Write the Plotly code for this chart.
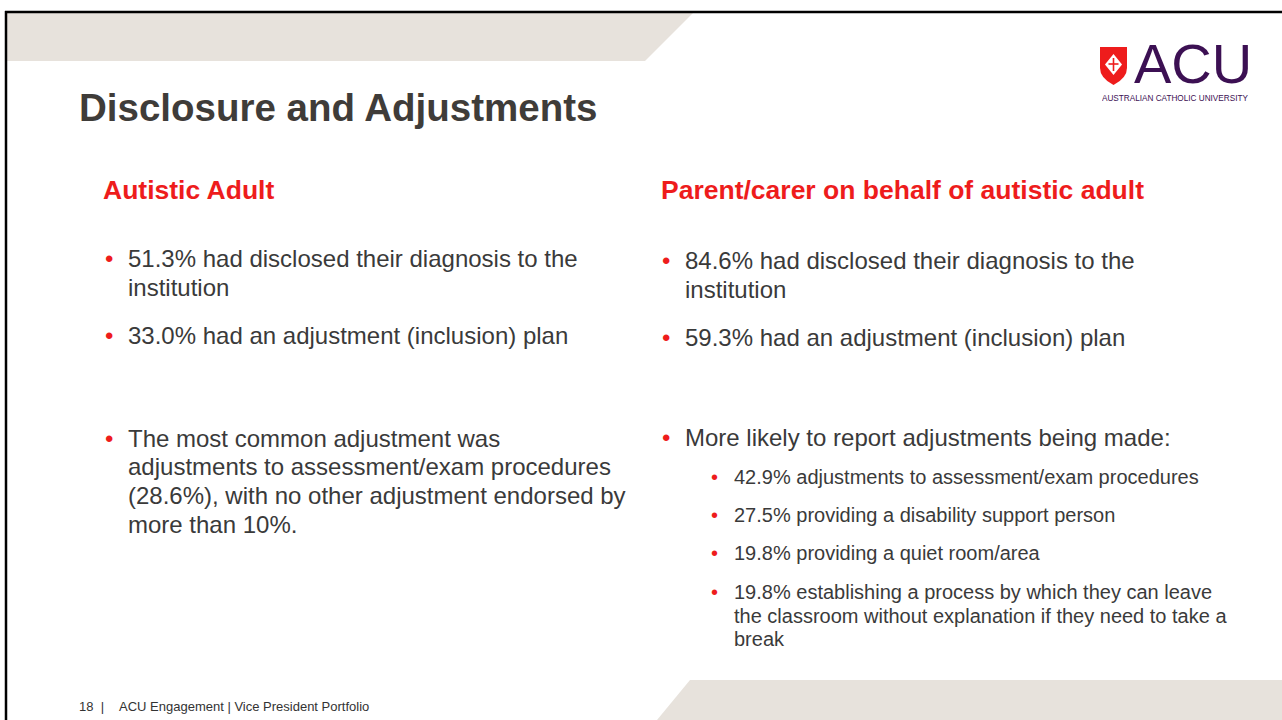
import plotly.graph_objects as go

# ---------------- data ----------------
title_text = "Disclosure and Adjustments"
group_labels = ["Autistic Adult", "Parent/carer on behalf of autistic adult"]

disclosed_pct = [51.3, 84.6]          # had disclosed diagnosis
plan_pct = [33.0, 59.3]               # had an adjustment (inclusion) plan
adult_common_pct = 28.6               # most common adjustment (autistic adult)
adult_other_max_pct = 10              # no other adjustment above

parent_adj_pct = [42.9, 27.5, 19.8, 19.8]
parent_adj_labels = [
    ["adjustments to assessment/exam procedures"],
    ["providing a disability support person"],
    ["providing a quiet room/area"],
    ["establishing a process by which they can leave",
     "the classroom without explanation if they need to take a",
     "break"],
]
footer_page = "18"
footer_text = "ACU Engagement | Vice President Portfolio"

# ---------------- styles ----------------
FONT = "Arial, 'Liberation Sans', sans-serif"
DARK = "#3f3c39"
BODY = "#3a3a3a"
RED = "#ee1c1c"
SAND = "#e7e2dc"
PURPLE = "#3c1053"
W, H = 1282, 720

fig = go.Figure()
shapes = []
ann = []

def text(x, y, s, size, color=BODY, bold=False, anchor="left", **kw):
    ann.append(dict(x=x, y=y, xref="x", yref="y", text=(f"<b>{s}</b>" if bold else s),
                    showarrow=False, xanchor=anchor, yanchor="middle",
                    font=dict(family=FONT, size=size, color=color), **kw))

def bullet(x, y, size):
    text(x, y, "•", size, color=RED)

# background decorations
shapes.append(dict(type="path", path="M 7 13 L 693 13 L 645 61 L 7 61 Z",
                   fillcolor=SAND, line=dict(width=0), layer="below"))
shapes.append(dict(type="path", path="M 690 680 L 1282 680 L 1282 720 L 657 720 Z",
                   fillcolor=SAND, line=dict(width=0), layer="below"))
shapes.append(dict(type="line", x0=5, x1=W, y0=12, y1=12, line=dict(color="black", width=2.5)))
shapes.append(dict(type="line", x0=6, x1=6, y0=11, y1=H, line=dict(color="black", width=2.5)))

# logo
shapes.append(dict(type="path",
                   path="M 1100 47 L 1127 47 L 1127 68 Q 1127 78 1113.5 85 Q 1100 78 1100 68 Z",
                   fillcolor="#ee1c1c", line=dict(width=0)))
shapes.append(dict(type="path", path="M 1113.5 54 L 1122 64.5 L 1113.5 75 L 1105 64.5 Z",
                   fillcolor="white", line=dict(width=0)))
shapes.append(dict(type="line", x0=1113.5, x1=1113.5, y0=58, y1=71, line=dict(color="#ee1c1c", width=1.6)))
shapes.append(dict(type="line", x0=1108.5, x1=1118.5, y0=64, y1=64, line=dict(color="#ee1c1c", width=1.6)))
text(1132, 63, "ACU", 56, color=PURPLE, height=46)
text(1174.5, 98, "AUSTRALIAN CATHOLIC UNIVERSITY", 8.2, color=PURPLE, anchor="center", height=8)

# title
text(77, 107, title_text, 38.5, color=DARK, bold=True)

# headers
text(101, 190, group_labels[0], 26.5, color=RED, bold=True)
text(659, 190, group_labels[1], 26.5, color=RED, bold=True)

# left column
BS = 24
LH = 29
def bullet_lines(xb, xt, y0, lines, size, lh):
    bullet(xb, y0, size)
    for i, ln in enumerate(lines):
        text(xt, y0 + i * lh, ln, size)

bullet_lines(103, 126, 258, [f"{disclosed_pct[0]:.1f}% had disclosed their diagnosis to the",
                             "institution"], BS, LH)
bullet_lines(103, 126, 335, [f"{plan_pct[0]:.1f}% had an adjustment (inclusion) plan"], BS, LH)
bullet_lines(103, 126, 438, ["The most common adjustment was",
                             "adjustments to assessment/exam procedures",
                             f"({adult_common_pct:.1f}%), with no other adjustment endorsed by",
                             f"more than {adult_other_max_pct}%."], BS, 28.7)

# right column
bullet_lines(660, 683, 260, [f"{disclosed_pct[1]:.1f}% had disclosed their diagnosis to the",
                             "institution"], BS, LH)
bullet_lines(660, 683, 337, [f"{plan_pct[1]:.1f}% had an adjustment (inclusion) plan"], BS, LH)
bullet_lines(660, 683, 437, ["More likely to report adjustments being made:"], BS, LH)

SS = 20
sub_y = [477, 515, 553, 592]
for pct, lines, y in zip(parent_adj_pct, parent_adj_labels, sub_y):
    full = [f"{pct:.1f}% {lines[0]}"] + lines[1:]
    bullet_lines(709, 732, y, full, SS, 23.6)

# footer
text(77, 706, f"{footer_page}  |", 13, color="#333333")
text(117, 706, footer_text, 13, color="#333333")

fig.update_layout(
    width=W, height=H, margin=dict(l=0, r=0, t=0, b=0),
    paper_bgcolor="white", plot_bgcolor="white",
    xaxis=dict(range=[0, W], visible=False, fixedrange=True),
    yaxis=dict(range=[H, 0], visible=False, fixedrange=True),
    shapes=shapes, annotations=ann, showlegend=False,
)
fig.write_html("out.html", config={"displayModeBar": False},
               post_script="document.body.style.margin='0';document.body.style.overflow='hidden';")
